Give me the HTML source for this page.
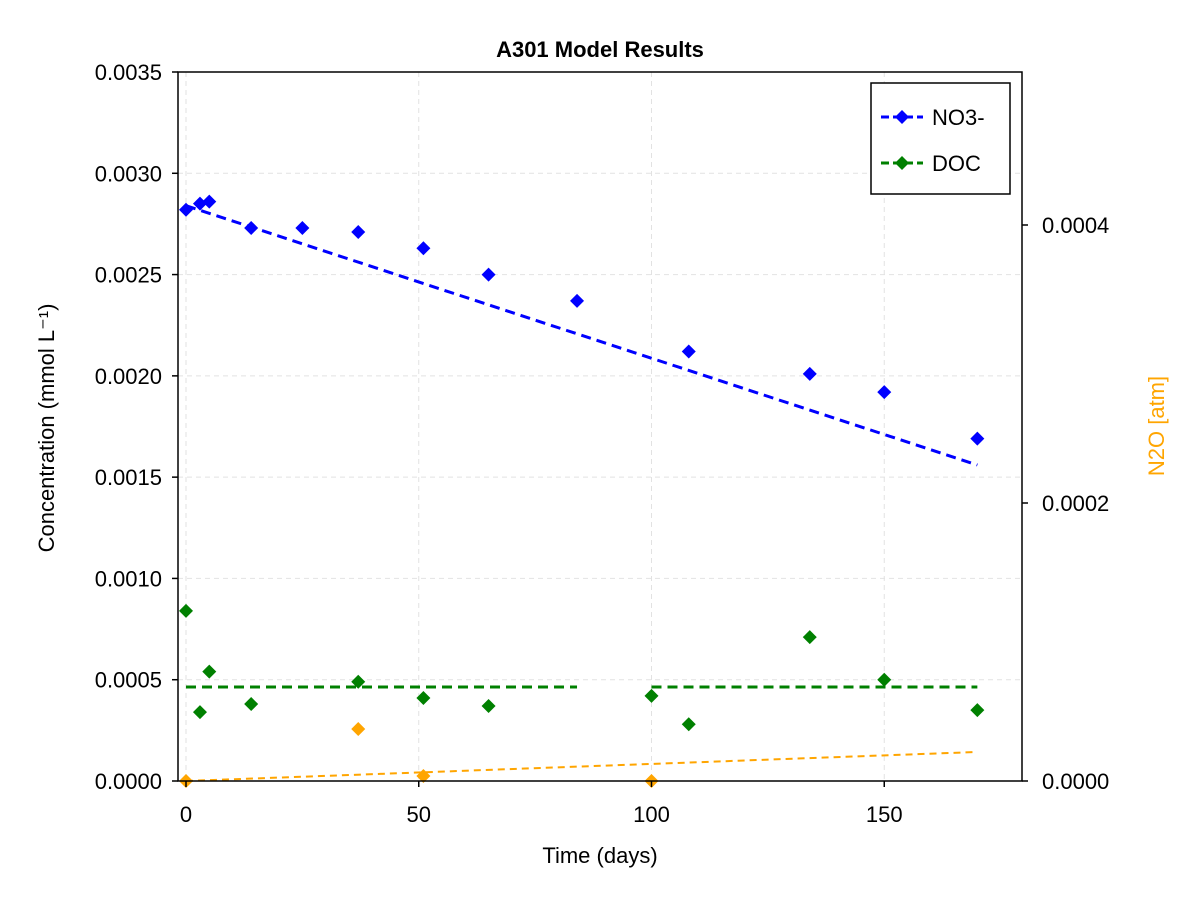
<!DOCTYPE html>
<html><head><meta charset="utf-8"><style>
body{margin:0;background:#fff;font-family:"Liberation Sans",Arial,sans-serif}
svg text{font-family:"Liberation Sans",Arial,sans-serif}
</style></head><body>
<svg id="chart" width="1200" height="900" xmlns="http://www.w3.org/2000/svg">
<rect width="1200" height="900" fill="#fff"/>
<g id="grid"></g><g id="marks"></g><g id="axes"></g>
</svg>
<script>
const xTicks=[0,50,100,150];
const yTicks=[0,0.0005,0.001,0.0015,0.002,0.0025,0.003,0.0035];
const yTickLabels=["0.0000","0.0005","0.0010","0.0015","0.0020","0.0025","0.0030","0.0035"];
const y2Ticks=[0,0.0002,0.0004];
const y2TickLabels=["0.0000","0.0002","0.0004"];
const no3Days=[0,3,5,14,25,37,51,65,84,108,134,150,170];
const no3Vals=[0.00282,0.00285,0.00286,0.00273,0.00273,0.00271,0.00263,0.0025,0.00237,0.00212,0.00201,0.00192,0.00169];
const no3LineDays=[0,170];
const no3LineVals=[0.00284,0.00156];
const docDays=[0,3,5,14,37,51,65,100,108,134,150,170];
const docVals=[0.00084,0.00034,0.00054,0.00038,0.00049,0.00041,0.00037,0.00042,0.00028,0.00071,0.0005,0.00035];
const docLineSegs=[[0,84],[100,170]];
const docLineVal=0.000464;
const n2oDays=[0,37,51,100];
const n2oVals=[0,0.0000374,0.0000036,0];
const n2oLineDays=[0,170];
const n2oLineVals=[0,0.0000209];

const L=178,R=1022,T=72,B=781;
const xs=d=>186+d*4.655;
const ys=v=>B-v/0.0035*(B-T);
const ys2=v=>B-v/0.0002*278;
const NS="http://www.w3.org/2000/svg";
function mk(p,tag,at){const e=document.createElementNS(NS,tag);for(const k in at)e.setAttribute(k,at[k]);p.appendChild(e);return e;}
const grid=document.getElementById('grid'),marks=document.getElementById('marks'),axes=document.getElementById('axes');
xTicks.forEach(t=>{const l=mk(grid,'line',{x1:xs(t),x2:xs(t),y1:T,y2:B,stroke:'#e2e2e2','stroke-dasharray':'5,4'});
});
yTicks.forEach(t=>{const l=mk(grid,'line',{x1:L,x2:R,y1:ys(t),y2:ys(t),stroke:'#e2e2e2','stroke-dasharray':'5,4'});
});
function diamond(x,y,c,name){const p=mk(marks,'polygon',{points:`${x},${y-7} ${x+7},${y} ${x},${y+7} ${x-7},${y}`,fill:c});
}
let l=mk(marks,'line',{x1:xs(no3LineDays[0]),y1:ys(no3LineVals[0]),x2:xs(no3LineDays[1]),y2:ys(no3LineVals[1]),stroke:'#00f','stroke-width':3,'stroke-dasharray':'10,6'});

no3Days.forEach((d,i)=>diamond(xs(d),ys(no3Vals[i]),'#00f','no3-point'));
docLineSegs.forEach(s=>{const e=mk(marks,'line',{x1:xs(s[0]),x2:xs(s[1]),y1:ys(docLineVal),y2:ys(docLineVal),stroke:'#008000','stroke-width':3,'stroke-dasharray':'10,6'});
});
docDays.forEach((d,i)=>diamond(xs(d),ys(docVals[i]),'#008000','doc-point'));
l=mk(marks,'line',{x1:xs(n2oLineDays[0]),y1:ys2(n2oLineVals[0]),x2:xs(n2oLineDays[1]),y2:ys2(n2oLineVals[1]),stroke:'#ffa500','stroke-width':2,'stroke-dasharray':'7,5'});

n2oDays.forEach((d,i)=>diamond(xs(d),ys2(n2oVals[i]),'#ffa500','n2o-point'));
const f=mk(axes,'rect',{x:L,y:T,width:R-L,height:B-T,fill:'none',stroke:'#000','stroke-width':1.5});

function txt(x,y,s,o,name){const t=mk(axes,'text',Object.assign({x:x,y:y,'font-size':22,fill:'#000'},o));t.textContent=s;
return t;}
xTicks.forEach(t=>{mk(axes,'line',{x1:xs(t),x2:xs(t),y1:B,y2:B+6,stroke:'#000','stroke-width':1.5});
txt(xs(t),B+41,String(t),{'text-anchor':'middle'},'x-tick-label');});
yTicks.forEach((t,i)=>{mk(axes,'line',{x1:L-6,x2:L,y1:ys(t),y2:ys(t),stroke:'#000','stroke-width':1.5});
txt(L-16,ys(t)+8,yTickLabels[i],{'text-anchor':'end'},'y-tick-label');});
y2Ticks.forEach((t,i)=>{mk(axes,'line',{x1:R,x2:R+6,y1:ys2(t),y2:ys2(t),stroke:'#000','stroke-width':1.5});
txt(R+20,ys2(t)+8,y2TickLabels[i],{'text-anchor':'start'},'y2-tick-label');});
txt(600,57,'A301 Model Results',{'text-anchor':'middle','font-weight':'bold'},'chart-title');
txt(600,863,'Time (days)',{'text-anchor':'middle'},'x-axis-title');
txt(0,0,'Concentration (mmol L⁻¹)',{'text-anchor':'middle',transform:'translate(54,428) rotate(-90)'},'y-axis-title');
txt(0,0,'N2O [atm]',{'text-anchor':'middle',fill:'#ffa500',transform:'translate(1164,426) rotate(-90)'},'y2-axis-title');
const lg=mk(axes,'rect',{x:871,y:83,width:139,height:111,fill:'#fff',stroke:'#000','stroke-width':1.5});

[['NO3-','#00f',117],['DOC','#008000',163]].forEach(e=>{
const ln=mk(axes,'line',{x1:881,x2:923,y1:e[2],y2:e[2],stroke:e[1],'stroke-width':3,'stroke-dasharray':'8,4'});

const p=mk(axes,'polygon',{points:`902,${e[2]-7} 909,${e[2]} 902,${e[2]+7} 895,${e[2]}`,fill:e[1]});

txt(932,e[2]+8,e[0],{},'legend-entry');});
</script>
</body></html>
